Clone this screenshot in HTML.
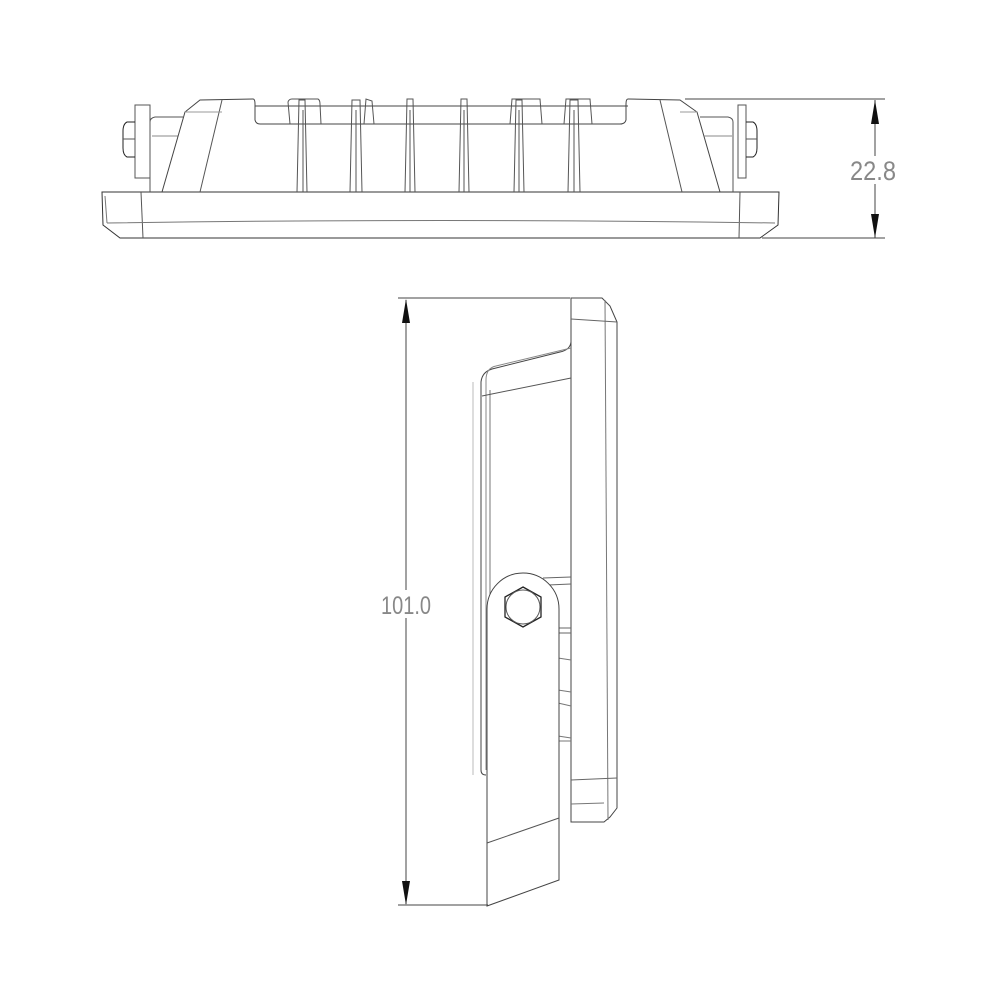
<!DOCTYPE html>
<html><head><style>html,body{margin:0;padding:0;background:#fff}svg{display:block}</style></head><body>
<svg width="1000" height="1000" viewBox="0 0 1000 1000" xmlns="http://www.w3.org/2000/svg" fill="none" stroke="#333" stroke-width="1">
<!-- TOP VIEW -->
<!-- base plate -->
<path d="M102 192 L779 192 L778 225 L760 238 L120 238 L103 225 Z"/>
<line x1="141" y1="192" x2="143" y2="238" stroke="#555"/>
<line x1="740" y1="192" x2="739" y2="238" stroke="#555"/>
<path d="M107 223 Q440 218 775 223" stroke="#777"/>
<line x1="105" y1="196" x2="107" y2="223" stroke="#777"/>
<!-- left bracket & nut -->
<rect x="135" y="105" width="15" height="73" stroke="#555"/>
<path d="M135 122 L127 122 Q123 124 123 131 L123 148 Q123 155 127 157 L135 157" stroke="#222"/>
<line x1="123" y1="139" x2="135" y2="139" stroke="#555"/>
<!-- left housing -->
<path d="M150 192 L150 122 Q150 118 155 117 L183 117" stroke="#555"/>
<line x1="152" y1="136" x2="178" y2="136" stroke="#888"/>
<path d="M162 192 L185 112 L200 100 L253 99 Q255 99 255 104 L255 120 Q256 124 260 124 L290 124" stroke="#444"/>
<line x1="222" y1="100" x2="200" y2="192" stroke="#555"/>
<line x1="185" y1="112" x2="222" y2="112" stroke="#999"/>
<line x1="255" y1="106" x2="628" y2="106" stroke="#444"/>
<line x1="260" y1="124" x2="622" y2="124" stroke="#444"/>
<!-- right housing -->
<path d="M720 192 L697 112 L680 100 L628 99 Q626 99 626 104 L626 120 Q625 124 620 124" stroke="#444"/>
<line x1="660" y1="100" x2="682" y2="192" stroke="#555"/>
<line x1="680" y1="112" x2="697" y2="112" stroke="#999"/>
<path d="M733 192 L733 122 Q733 118 728 117 L700 117" stroke="#555"/>
<line x1="704" y1="136" x2="732" y2="136" stroke="#888"/>
<rect x="738" y="105" width="8" height="73" stroke="#555"/>
<path d="M746 122 L753 122 Q757 124 757 131 L757 148 Q757 155 753 157 L746 157" stroke="#222"/>
<line x1="746" y1="139" x2="757" y2="139" stroke="#555"/>
<!-- fins -->
<g stroke="#555">
<path d="M290 124 L288 102 Q289 99 292 99 L318 99 Q320 100 320 104 L321 124"/>
<path d="M297 192 L299 100 L305 100 L307 192"/>
<path d="M303 192 L303 110"/>
<path d="M350 192 L352 100 L360 100 L362 192"/>
<path d="M356 192 L356 110"/>
<path d="M364 124 L366 99 L372 101 L374 124"/>
<path d="M405 192 L407 99 L413 99 L415 192"/>
<path d="M410 192 L410 110"/>
<path d="M459 192 L461 99 L467 99 L469 192"/>
<path d="M464 192 L464 110"/>
<path d="M510 124 L512 99 L540 99 L542 124"/>
<path d="M514 192 L516 100 L522 100 L524 192"/>
<path d="M519 192 L519 110"/>
<path d="M568 192 L570 100 L578 100 L580 192"/>
<path d="M574 192 L574 110"/>
<path d="M564 124 L566 99 L590 99 L592 124"/>
</g>
<!-- dimension 22.8 -->
<g stroke="#444">
<line x1="685" y1="99" x2="885" y2="99"/>
<line x1="762" y1="238" x2="885" y2="238"/>
<line x1="875" y1="100" x2="875" y2="238"/>
</g>
<path d="M875 100 L871 124 L879 124 Z" fill="#111" stroke="none"/>
<path d="M875 238 L871 214 L879 214 Z" fill="#111" stroke="none"/>
<rect x="850" y="156" width="50" height="28" fill="#fff" stroke="none"/>
<text x="873" y="180" font-family="Liberation Sans Narrow, Liberation Sans, sans-serif" font-size="27" fill="#888" stroke="none" text-anchor="middle" textLength="46" lengthAdjust="spacingAndGlyphs">22.8</text>

<!-- SIDE VIEW -->
<!-- front plate -->
<path d="M571 298 L602 298 L610 306 L617 322 L617 808 L610 817 L604 822 L571 822 Z" stroke="#444"/>
<line x1="605" y1="300" x2="608" y2="820" stroke="#777"/>
<line x1="571" y1="319" x2="617" y2="322" stroke="#666"/>
<line x1="571" y1="780" x2="617" y2="778" stroke="#666"/>
<line x1="571" y1="804" x2="604" y2="803" stroke="#777"/>
<!-- housing -->
<path d="M571 342 Q570 350 560 352 L492 369 Q482 372 481 382 L481 770 Q481 775 486 775" stroke="#444"/>
<path d="M571 348 L496 366 Q486 368 486 380 L486 770" stroke="#888"/>
<path d="M490 390 L490 770" stroke="#777"/>
<line x1="482" y1="396" x2="571" y2="378" stroke="#555"/>
<line x1="473" y1="382" x2="473" y2="775" stroke="#bbb"/>
<path d="M543 578 L571 577 M548 585 L571 584" stroke="#666"/>
<path d="M558 628 L571 628 M558 633 L571 633" stroke="#666"/>
<path d="M558 658 L571 660 M558 690 L571 692 M558 703 L571 706 M558 736 L571 738 M558 741 L571 741" stroke="#777"/>
<!-- bracket -->
<path d="M487 906 L487 609 A36 36 0 0 1 559 609 L559 880 Z" fill="#fff" stroke="#444"/>
<line x1="487" y1="843" x2="559" y2="818" stroke="#555"/>
<!-- hex bolt -->
<polygon points="523,587 541,597 541,617 523,627 505,617 505,597" stroke="#222" stroke-width="1.3"/>
<circle cx="523" cy="607" r="17" stroke="#555"/>
<!-- dimension 101.0 -->
<g stroke="#444">
<line x1="398" y1="298" x2="570" y2="298"/>
<line x1="398" y1="905" x2="488" y2="905"/>
<line x1="406" y1="300" x2="406" y2="904"/>
</g>
<path d="M406 299 L402 323 L410 323 Z" fill="#111" stroke="none"/>
<path d="M406 905 L402 881 L410 881 Z" fill="#111" stroke="none"/>
<rect x="380" y="590" width="52" height="28" fill="#fff" stroke="none"/>
<text x="406" y="614" font-family="Liberation Sans Narrow, Liberation Sans, sans-serif" font-size="25" fill="#888" stroke="none" text-anchor="middle" textLength="50" lengthAdjust="spacingAndGlyphs">101.0</text>
</svg>
</body></html>
